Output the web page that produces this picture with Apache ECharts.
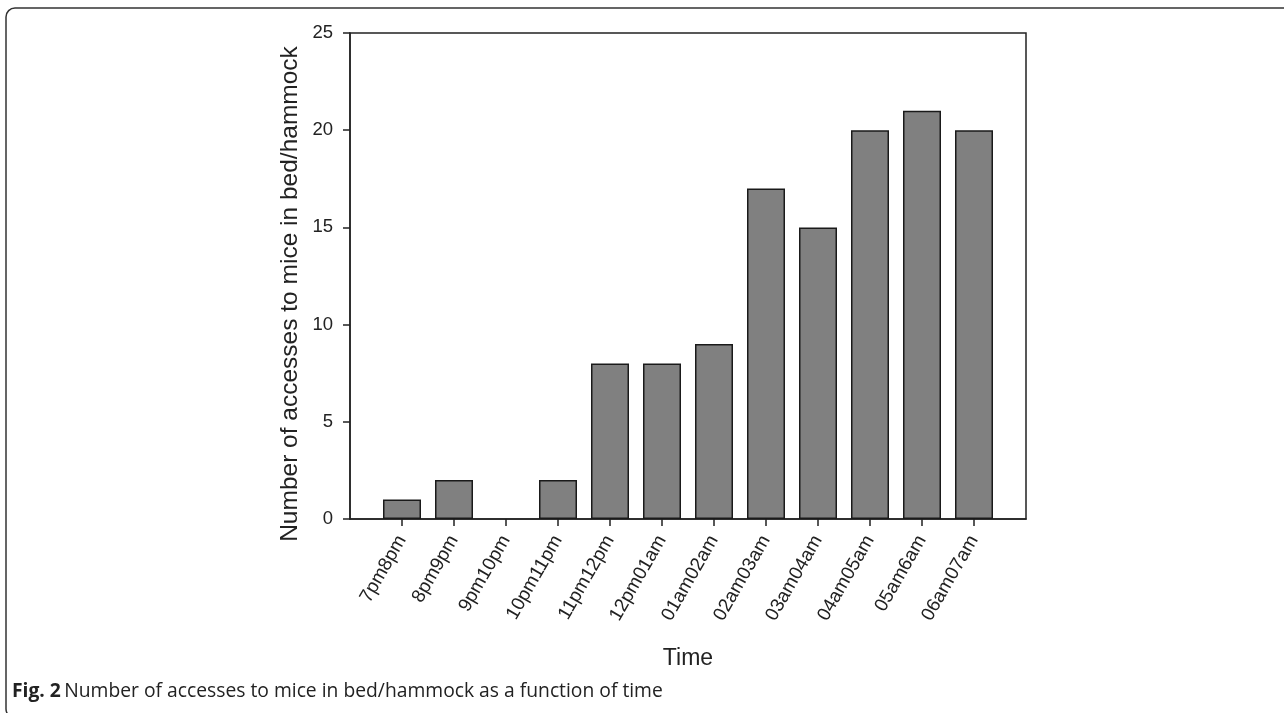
<!DOCTYPE html>
<html>
<head>
<meta charset="utf-8">
<script src="https://cdn.jsdelivr.net/npm/echarts@6/dist/echarts.min.js"></script>
<style>
html,body{margin:0;padding:0;background:#fff;}
#c{width:1284px;height:713px;}
</style>
</head>
<body>
<div id="c"></div>
<script>
const categories = ['7pm8pm','8pm9pm','9pm10pm','10pm11pm','11pm12pm','12pm01am','01am02am','02am03am','03am04am','04am05am','05am6am','06am07am'];
const counts = [1, 2, 0, 2, 8, 8, 9, 17, 15, 20, 21, 20];
const yTicks = [0, 5, 10, 15, 20, 25];

const axisCats = [''].concat(categories).concat(['']);
const barData = ['-'].concat(counts.map(v => v === 0 ? {value: v, itemStyle: {borderWidth: 0}} : v)).concat(['-']);

const chart = echarts.init(document.getElementById('c'));
chart.setOption({
  animation: false,
  backgroundColor: '#fff',
  graphic: [
    {type: 'rect', shape: {x: 6, y: 8, width: 1300, height: 710, r: 9},
     style: {fill: 'none', stroke: '#333', lineWidth: 1.5}, silent: true},
    {type: 'text', x: 290, y: 294, rotation: Math.PI / 2,
     style: {text: 'Number of accesses to mice in bed/hammock', fontSize: 24.5, fontFamily: 'Liberation Sans',
             fill: '#222', align: 'center', verticalAlign: 'middle'}},
    {type: 'text', x: 12, y: 692,
     style: {rich: {b: {fontWeight: 'bold', fontSize: 19.3, fontFamily: 'Open Sans', fill: '#222'},
                    n: {fontSize: 19.3, fontFamily: 'Open Sans', fill: '#222'}},
             verticalAlign: 'middle',
             text: '{b|Fig. 2} {n|Number of accesses to mice in bed/hammock as a function of time}'}}
  ],
  grid: {left: 350, right: 258, top: 33, bottom: 194, show: true, borderColor: '#222', borderWidth: 1.5, backgroundColor: 'transparent'},
  xAxis: {
    type: 'category', data: axisCats, boundaryGap: false,
    name: 'Time', nameLocation: 'middle', nameGap: 128,
    nameTextStyle: {fontSize: 23, fontFamily: 'Liberation Sans', color: '#222'},
    axisLine: {lineStyle: {color: '#222', width: 1.5}},
    axisTick: {length: 7, lineStyle: {color: '#222', width: 1.5},
               interval: function (i) { return i > 0 && i < axisCats.length - 1; }},
    axisLabel: {interval: 0, rotate: 60, fontSize: 19, fontFamily: 'Liberation Sans', color: '#222', margin: 18},
    splitLine: {show: false}
  },
  yAxis: {
    type: 'value', min: yTicks[0], max: yTicks[yTicks.length - 1], interval: 5,
    axisLine: {show: true, lineStyle: {color: '#222', width: 1.5}},
    axisTick: {show: true, length: 7, lineStyle: {color: '#222', width: 1.5}},
    axisLabel: {fontSize: 18.5, fontFamily: 'Liberation Sans', color: '#222', margin: 17},
    splitLine: {show: false}
  },
  series: [{
    type: 'bar', data: barData, barWidth: 38,
    itemStyle: {color: '#808080', borderColor: '#1a1a1a', borderWidth: 1.5}
  }]
});
</script>
</body>
</html>
